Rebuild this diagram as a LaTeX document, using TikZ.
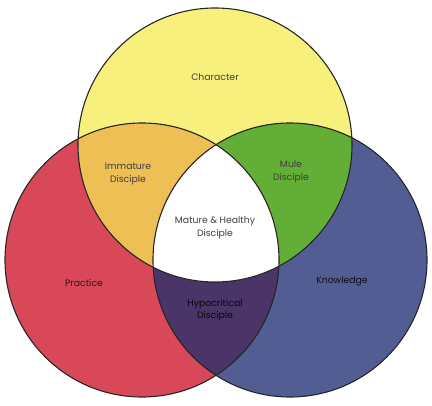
\documentclass[tikz,border=0pt]{standalone}
\usepackage{fontspec}
\setmainfont{Poppins}
\usepackage{xcolor}
\usepackage{tikz}
\definecolor{charYel}{HTML}{F8F07C}
\definecolor{pracRed}{HTML}{D94858}
\definecolor{knowBlue}{HTML}{525D94}
\definecolor{immOrange}{HTML}{EEBF55}
\definecolor{muleGreen}{HTML}{63AE36}
\definecolor{hypPurple}{HTML}{4B3468}

\begin{document}
\begin{tikzpicture}[x=1pt,y=-1pt,
  ring/.style={draw=black!85,line width=1.1pt},
  lab/.style={font=\fontsize{9.3}{12.5}\selectfont,align=center,text=black!75,inner sep=1pt}]
\useasboundingbox (0,0) rectangle (432,406);
\coordinate (top) at (215,145);
\coordinate (lft) at (142,260);
\coordinate (rgt) at (290,260);
% the three sets
\fill[charYel] (top) circle[radius=137pt];
\fill[pracRed] (lft) circle[radius=137pt];
\fill[knowBlue] (rgt) circle[radius=137pt];
% pairwise overlaps
\begin{scope}
  \clip (top) circle[radius=137pt];
  \fill[immOrange] (lft) circle[radius=137pt];
  \fill[muleGreen] (rgt) circle[radius=137pt];
\end{scope}
\begin{scope}
  \clip (lft) circle[radius=137pt];
  \fill[hypPurple] (rgt) circle[radius=137pt];
\end{scope}
% centre
\begin{scope}
  \clip (top) circle[radius=137pt];
  \clip (lft) circle[radius=137pt];
  \fill[white] (rgt) circle[radius=137pt];
\end{scope}
\draw[ring] (top) circle[radius=137pt];
\draw[ring] (lft) circle[radius=137pt];
\draw[ring] (rgt) circle[radius=137pt];
% labels
\node[lab] (char) at (215,77) {Character};
\node[lab] (imm) at (128,174) {Immature\\Disciple};
\node[lab] (mule) at (291,172) {Mule\\Disciple};
\node[lab] (mat) at (215,228) {Mature \& Healthy\\Disciple};
\node[lab,text=black!75!pracRed] (prac) at (84,283) {Practice};
\node[lab,text=black!85!knowBlue] (know) at (342,281) {Knowledge};
\node[lab,text=black!88!hypPurple] (hyp) at (215,310) {Hypocritical\\Disciple};
\end{tikzpicture}
\end{document}
